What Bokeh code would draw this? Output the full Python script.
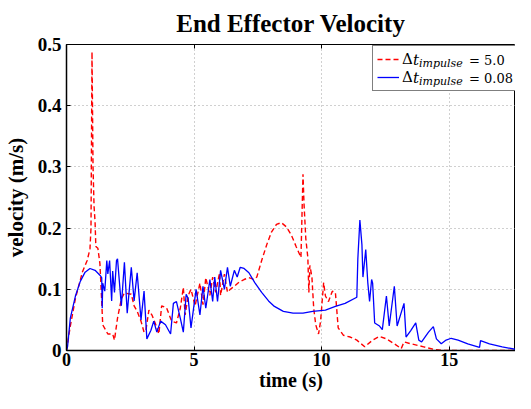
from bokeh.plotting import figure
from bokeh.models import Range1d, FixedTicker, LinearAxis, Legend, LegendItem, Title
from bokeh.embed import file_html
from bokeh.resources import INLINE

# ---- data ----
t_red = [0, 0.15, 0.35, 0.54, 0.62, 0.81, 0.92, 0.96, 1.0, 1.04, 1.08, 1.12, 1.15, 1.23, 1.31, 1.38, 1.42,
         1.62, 1.81, 1.88, 2.0, 2.15, 2.27, 2.54, 2.65, 2.77, 2.92, 3.04, 3.12, 3.23, 3.35, 3.5, 3.62, 3.73,
         3.92, 4.12, 4.31, 4.46, 4.58, 4.65, 4.77, 4.88, 5.04, 5.23, 5.35, 5.46, 5.62, 5.73, 5.85, 6.0, 6.04,
         6.19, 6.31, 6.42, 6.58, 6.77, 6.96, 7.15, 7.35, 7.46, 7.65, 7.85, 8.04, 8.23, 8.42, 8.62, 8.81, 9.0,
         9.19, 9.27, 9.31, 9.38, 9.46, 9.5, 9.54, 9.62, 9.69, 9.77, 9.88, 9.96, 10.08, 10.15, 10.27, 10.42,
         10.54, 10.65, 10.85, 11.12, 11.38, 11.69, 12.0, 12.27, 12.54, 12.85, 13.12, 13.23, 13.5, 14.0, 14.38,
         14.77, 17.9]
v_red = [0, 0.04, 0.085, 0.115, 0.128, 0.147, 0.166, 0.2, 0.488, 0.3, 0.236, 0.21, 0.17, 0.167, 0.142, 0.08,
         0.042, 0.027, 0.027, 0.017, 0.053, 0.084, 0.094, 0.092, 0.073, 0.064, 0.048, 0.03, 0.035, 0.066, 0.058,
         0.042, 0.027, 0.073, 0.07, 0.048, 0.045, 0.069, 0.103, 0.058, 0.09, 0.1, 0.073, 0.11, 0.075, 0.119,
         0.09, 0.12, 0.095, 0.127, 0.09, 0.125, 0.095, 0.1, 0.105, 0.112, 0.116, 0.119, 0.116, 0.12, 0.147,
         0.173, 0.194, 0.206, 0.209, 0.202, 0.189, 0.17, 0.152, 0.288, 0.24, 0.183, 0.152, 0.095, 0.139, 0.12,
         0.069, 0.042, 0.027, 0.048, 0.111, 0.089, 0.08, 0.097, 0.095, 0.037, 0.025, 0.022, 0.017, 0.006,
         0.017, 0.023, 0.019, 0.011, 0.003, 0.014, 0.011, 0.006, 0.002, 0.0, 0.0]

t_blue = [0, 0.04, 0.15, 0.35, 0.54, 0.73, 0.92, 1.12, 1.31, 1.38, 1.40, 1.42, 1.50, 1.58, 1.62, 1.69, 1.77,
          1.81, 1.88, 1.96, 2.00, 2.15, 2.27, 2.38, 2.54, 2.65, 2.77, 2.92, 3.04, 3.15, 3.31, 3.42, 3.54, 3.69,
          3.88, 4.08, 4.19, 4.31, 4.46, 4.58, 4.69, 4.77, 4.88, 5.08, 5.23, 5.35, 5.46, 5.62, 5.73, 5.81, 5.92,
          6.04, 6.19, 6.31, 6.42, 6.58, 6.69, 6.81, 6.96, 7.15, 7.38, 7.65, 7.92, 8.15, 8.50, 8.88, 9.27, 9.65,
          10.15, 10.54, 10.92, 11.38, 11.42, 11.50, 11.58, 11.62, 11.73, 11.81, 11.88, 11.96, 12.00, 12.08,
          12.27, 12.38, 12.54, 12.65, 12.85, 12.96, 13.23, 13.31, 13.50, 13.69, 13.81, 13.92, 14.19, 14.38,
          14.50, 14.69, 14.88, 15.08, 15.35, 15.73, 16.19, 16.23, 16.58, 17.08, 17.58, 17.9]
v_blue = [0, 0.006, 0.053, 0.089, 0.113, 0.128, 0.134, 0.131, 0.123, 0.119, 0.069, 0.11, 0.097, 0.147, 0.125,
          0.147, 0.081, 0.13, 0.095, 0.147, 0.15, 0.073, 0.144, 0.061, 0.136, 0.081, 0.127, 0.05, 0.097, 0.019,
          0.033, 0.048, 0.03, 0.048, 0.042, 0.027, 0.077, 0.08, 0.053, 0.03, 0.092, 0.085, 0.037, 0.1, 0.058,
          0.105, 0.069, 0.116, 0.08, 0.12, 0.08, 0.131, 0.1, 0.136, 0.105, 0.131, 0.12, 0.136, 0.134, 0.127,
          0.111, 0.095, 0.081, 0.072, 0.064, 0.061, 0.061, 0.064, 0.066, 0.072, 0.077, 0.087, 0.15, 0.213,
          0.173, 0.12, 0.165, 0.111, 0.08, 0.116, 0.11, 0.045, 0.04, 0.034, 0.089, 0.04, 0.105, 0.04, 0.077,
          0.022, 0.033, 0.045, 0.017, 0.014, 0.03, 0.039, 0.019, 0.011, 0.017, 0.02, 0.017, 0.011, 0.005,
          0.016, 0.011, 0.006, 0.002, 0.0]

x_ticks = [0, 5, 10, 15]
y_ticks = [0, 0.1, 0.2, 0.3, 0.4, 0.5]
y_tick_labels = ["0", "0.1", "0.2", "0.3", "0.4", "0.5"]
legend_values = ["5.0", "0.08"]

SERIF = "Liberation Serif"
MATH = "DejaVu Serif"

p = figure(width=515, height=393, output_backend="svg", toolbar_location=None,
           x_range=Range1d(0, 17.6), y_range=Range1d(0, 0.5),
           min_border_left=58, min_border_right=0, min_border_top=36, min_border_bottom=0)
p.title = Title(text="End Effector Velocity", align="center", text_font=SERIF,
                text_font_size="25px", text_font_style="bold", text_color="black", standoff=15)

p.background_fill_color = "white"
p.border_fill_color = "white"
p.outline_line_color = "black"
p.outline_line_width = 1

r_red = p.line(t_red, v_red, line_color="#ff0000", line_width=1.4, line_dash="5 3")
r_blue = p.line(t_blue, v_blue, line_color="#0000ff", line_width=1.3)

for ax in (p.xaxis[0], p.yaxis[0]):
    ax.axis_line_color = "black"
    ax.axis_line_width = 1.5
    ax.major_tick_in = 4
    ax.major_tick_out = 0
    ax.minor_tick_line_color = None
    ax.major_tick_line_color = "black"
    ax.major_label_text_font = SERIF
    ax.major_label_text_font_style = "bold"
    ax.major_label_text_font_size = "18px"
    ax.major_label_text_color = "black"
    ax.axis_label_text_font = SERIF
    ax.axis_label_text_font_style = "bold"
    ax.axis_label_text_font_size = "20px"
    ax.axis_label_text_color = "black"

p.yaxis.major_label_text_font_size = "19px"
p.yaxis.axis_label_text_font_size = "21px"
p.xaxis.ticker = FixedTicker(ticks=x_ticks)
p.yaxis.ticker = FixedTicker(ticks=y_ticks)
p.yaxis.major_label_overrides = dict(zip(y_ticks, y_tick_labels))
p.xaxis.axis_label = "time (s)"
p.yaxis.axis_label = "velocity (m/s)"
p.xaxis.major_label_standoff = 2
p.yaxis.major_label_standoff = 5
p.xaxis.axis_label_standoff = 0
p.yaxis.axis_label_standoff = 7

top_axis = LinearAxis(ticker=FixedTicker(ticks=x_ticks), major_tick_in=4, major_tick_out=0,
                      minor_tick_line_color=None, axis_line_color=None,
                      major_label_text_color=None, major_label_text_font_size="1px",
                      major_label_standoff=0)
p.add_layout(top_axis, "above")

p.xgrid.ticker = FixedTicker(ticks=x_ticks)
p.ygrid.ticker = FixedTicker(ticks=y_ticks)
for g in (p.xgrid[0], p.ygrid[0]):
    g.grid_line_color = "#a0a0a0"
    g.grid_line_dash = "1 3"
    g.grid_line_width = 1

renderers = [r_red, r_blue]

# main legend: frame, line samples and the upright Delta
main_legend = Legend(items=[LegendItem(label="\u0394", renderers=[r]) for r in renderers],
                     location=(306, 259), padding=4, spacing=0, margin=0,
                     glyph_width=22, glyph_height=18, label_height=18, label_width=130,
                     label_standoff=3, label_text_font=MATH, label_text_font_size="15px",
                     label_text_color="black", border_line_color="black", border_line_width=1,
                     background_fill_color="white", background_fill_alpha=1.0)
p.add_layout(main_legend, "center")


def text_legend(labels, loc, size, style):
    return Legend(items=[LegendItem(label=t, renderers=[r]) for t, r in zip(labels, renderers)],
                  location=loc, padding=0, spacing=0, margin=0,
                  glyph_width=0, glyph_height=18, label_height=18, label_width=10,
                  label_standoff=0, label_text_font=MATH, label_text_font_size=size,
                  label_text_font_style=style, label_text_color="black",
                  border_line_color=None, background_fill_alpha=0.0)


p.add_layout(text_legend(["t", "t"], (347, 263), "15px", "italic"), "center")
p.add_layout(text_legend(["impulse", "impulse"], (353, 260), "11px", "italic"), "center")
p.add_layout(text_legend(["= " + v for v in legend_values], (403, 263), "13px", "normal"), "center")

open("out.html", "w").write(file_html(p, INLINE))
